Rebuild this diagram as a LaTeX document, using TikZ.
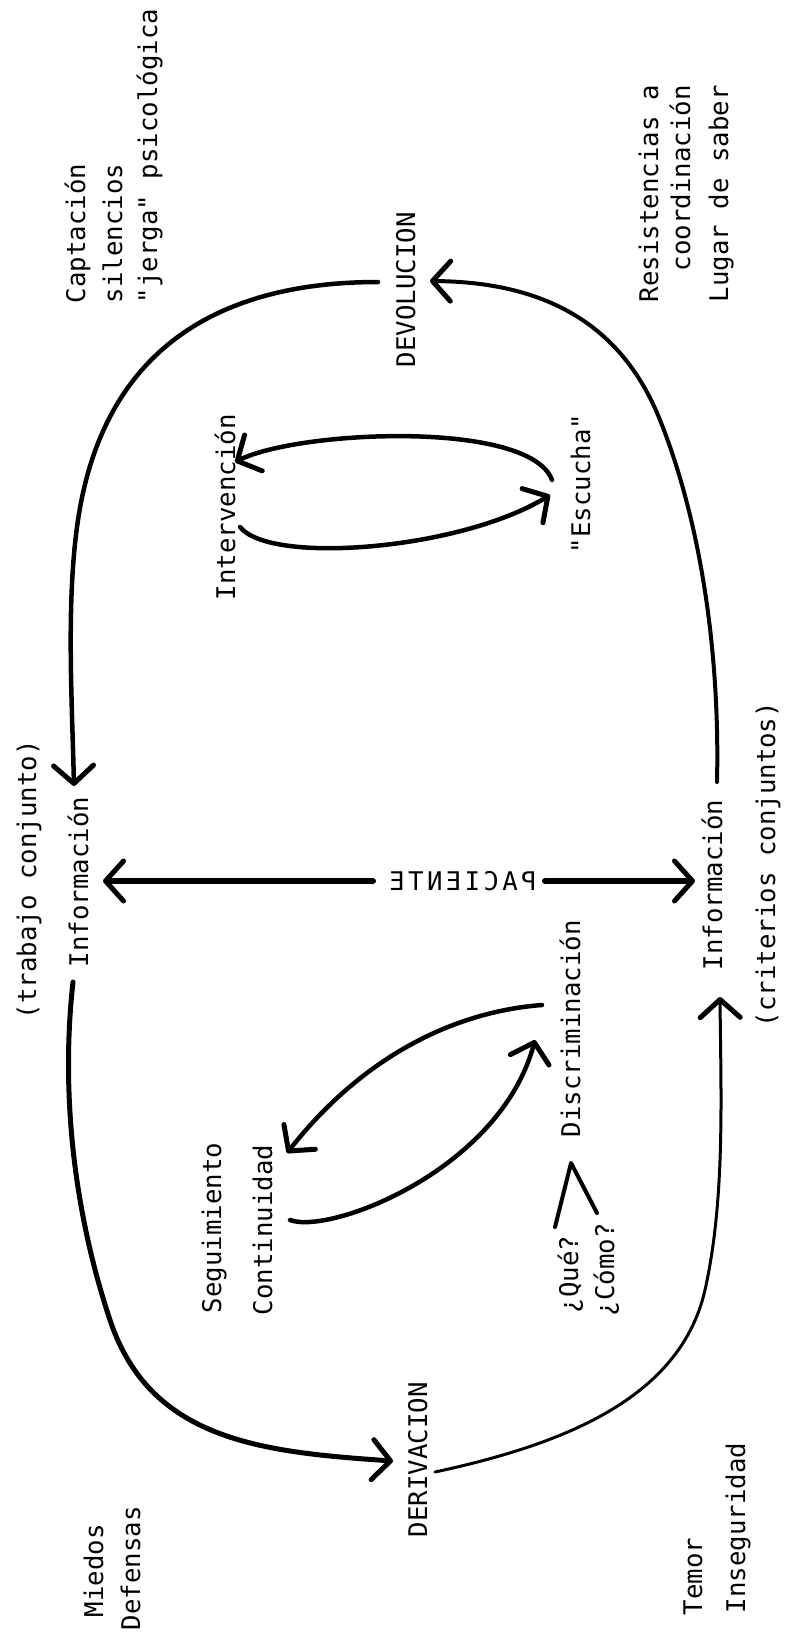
\documentclass[tikz,border=0pt]{standalone}
\usepackage{fontspec}
\newfontfamily\twfont{DejaVu Sans Mono}
\newfontfamily\twspaced[LetterSpace=13]{DejaVu Sans Mono}
\usetikzlibrary{arrows.meta}
\begin{document}
\begin{tikzpicture}[x=1pt,y=-1pt,
  lbl/.style={font=\twfont\fontsize{25.7}{30}\selectfont, rotate=90, anchor=base west, inner sep=0pt, outer sep=0pt},
  conn/.style={draw=black, line width=#1, line cap=round, line join=round},
  conn/.default=4.5pt,
  barb/.style={-{Straight Barb[length=18pt,width=40pt,line width=5pt,round]}}
]
\fill[white] (0,0) rectangle (787,1638);
\path[use as bounding box] (0,0) rectangle (787,1638);

% labels top-left
\node[lbl] (capt) at (85,303) {Captación};
\node[lbl] (sil) at (122,303) {silencios};
\node[lbl] (jerga) at (157,303) {"jerga" psicológica};
% labels top-right
\node[lbl] (resis) at (658,302) {Resistencias a};
\node[lbl] (coord) at (690,271) {coordinación};
\node[lbl] (lugar) at (728,302) {Lugar de saber};
% main nodes
\node[lbl] (devo) at (415,367) {DEVOLUCION};
\node[lbl] (deri) at (427,1537) {DERIVACION};
\node[lbl] (trab) at (36,1019) {(trabajo conjunto)};
\node[lbl] (infL) at (88,967) {Información};
\node[lbl] (infR) at (722,970) {Información};
\node[lbl] (crit) at (775,1027) {(criterios conjuntos)};
\node[font=\twspaced\fontsize{25.7}{30}\selectfont, xscale=-1, inner sep=0pt, outer sep=0pt] (pac) at (463,881) {PACIENTE};
% inner
\node[lbl] (interv) at (235,600) {Intervención};
\node[lbl] (escu) at (590,553) {"Escucha"};
\node[lbl] (segu) at (221,1313) {Seguimiento};
\node[lbl] (conti) at (272,1315) {Continuidad};
\node[lbl] (discr) at (580,1137) {Discriminación};
\node[lbl] (que) at (578,1313) {¿Qué?};
\node[lbl] (como) at (614,1316) {¿Cómo?};
% bottom labels
\node[lbl] (miedos) at (103,1617) {Miedos};
\node[lbl] (defen) at (140,1630) {Defensas};
\node[lbl] (temor) at (702,1615) {Temor};
\node[lbl] (inseg) at (745,1613) {Inseguridad};

% connector ends
\coordinate (tlS) at (378,282);
\coordinate (tlE) at (74,786);
\coordinate (trS) at (717,782);
\coordinate (trE) at (430,281);
\coordinate (blS) at (73,982);
\coordinate (blE) at (393,1461);
\coordinate (brS) at (435,1472);
\coordinate (brE) at (720,997);
\coordinate (pacL) at (373,881);
\coordinate (pacR) at (545,881);
\coordinate (pLtip) at (103,881);
\coordinate (pRtip) at (695,881);
\coordinate (escT) at (552,480);
\coordinate (intT) at (235,462);
\coordinate (intB) at (240,527);
\coordinate (escB) at (550,495);
\coordinate (disT) at (542,1005);
\coordinate (segT) at (287,1153);
\coordinate (conB) at (290,1220);
\coordinate (disB) at (535,1040);
\coordinate (queE) at (555,1227);
\coordinate (disS) at (571,1163);
\coordinate (comoE) at (597,1213);

% outer loop
\draw[conn=4.5pt, barb] (tlS) .. controls (230,282) and (105,340) .. (78,520) .. controls (66,600) and (72,700) .. (tlE);
\draw[conn=4pt, barb] (trS) .. controls (720,650) and (700,520) .. (660,420) .. controls (620,320) and (540,282) .. (trE);
\draw[conn=5pt, barb] (blS) .. controls (62,1080) and (70,1200) .. (110,1320) .. controls (150,1440) and (260,1452) .. (blE);
\draw[conn=3pt, barb] (brS) .. controls (560,1445) and (680,1400) .. (705,1290) .. controls (725,1200) and (721,1100) .. (brE);
% PACIENTE
\draw[conn=6pt, barb] (pacL) -- (pLtip);
\draw[conn=6pt, barb] (pacR) -- (pRtip);
% inner loops
\draw[conn, barb] (escT) .. controls (530,420) and (300,430) .. (intT);
\draw[conn, barb] (intB) .. controls (270,565) and (460,550) .. (escB);
\draw[conn, barb] (disT) .. controls (450,1012) and (360,1060) .. (segT);
\draw[conn, barb] (conB) .. controls (330,1235) and (500,1170) .. (disB);
\draw[conn=4pt] (queE) -- (disS) -- (comoE);
\end{tikzpicture}
\end{document}
